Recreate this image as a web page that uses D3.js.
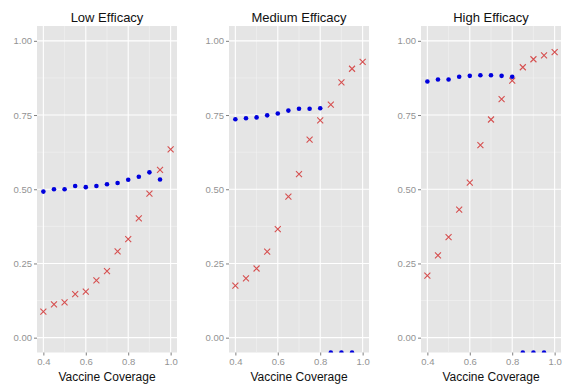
<!DOCTYPE html>
<html>
<head>
<meta charset="utf-8">
<script src="https://cdn.jsdelivr.net/npm/d3@7"></script>
<style>
  body { margin: 0; background: #fff; }
  text { font-family: "Liberation Sans", Arial, sans-serif; }
</style>
</head>
<body>
<svg id="chart"></svg>
<script>
// vaccine coverage levels
const coverage = [0.40, 0.45, 0.50, 0.55, 0.60, 0.65, 0.70, 0.75, 0.80, 0.85, 0.90, 0.95, 1.00];

const titles = ["Low Efficacy", "Medium Efficacy", "High Efficacy"];

// blue dots (null = not drawn); -0.05 sits on the panel's lower edge
const lowDots  = [0.492, 0.500, 0.500, 0.511, 0.507, 0.511, 0.517, 0.521, 0.532, 0.542, 0.557, 0.533, null];
const medDots  = [0.736, 0.739, 0.742, 0.749, 0.755, 0.765, 0.771, 0.771, 0.773, -0.05, -0.05, -0.05, null];
const highDots = [0.863, 0.870, 0.870, 0.879, 0.882, 0.884, 0.884, 0.882, 0.879, -0.05, -0.05, -0.05, null];

// red crosses
const lowCross  = [0.088, 0.112, 0.119, 0.147, 0.155, 0.193, 0.224, 0.291, 0.332, 0.402, 0.485, 0.565, 0.634];
const medCross  = [0.175, 0.200, 0.233, 0.290, 0.366, 0.475, 0.551, 0.667, 0.732, 0.785, 0.860, 0.906, 0.929];
const highCross = [0.209, 0.277, 0.339, 0.431, 0.522, 0.649, 0.735, 0.804, 0.866, 0.911, 0.938, 0.951, 0.962];

const xTicks = [0.4, 0.6, 0.8, 1.0];
const xMinor = [0.5, 0.7, 0.9];
const yTicks = [0, 0.25, 0.5, 0.75, 1.0];
const yMinor = [0.125, 0.375, 0.625, 0.875];

const width = 563, height = 385;
const panelLefts = [37, 229, 421];
const panelW = 140, panelTop = 26, panelBottom = 352.5;

const svg = d3.select("#chart")
    .attr("width", width)
    .attr("height", height);

const panels = [
    {title: titles[0], dots: lowDots,  cross: lowCross},
    {title: titles[1], dots: medDots,  cross: medCross},
    {title: titles[2], dots: highDots, cross: highCross}
];

panels.forEach(function (p, i) {
    const left = panelLefts[i];
    const x = d3.scaleLinear().domain([0.37, 1.03]).range([left, left + panelW]);
    const y = d3.scaleLinear().domain([-0.05, 1.05]).range([panelBottom, panelTop]);

    const g = svg.append("g");

    // clip for the panel
    g.append("clipPath").attr("id", "clip" + i)
        .append("rect")
        .attr("x", left).attr("y", panelTop)
        .attr("width", panelW).attr("height", panelBottom - panelTop);

    // background
    g.append("rect")
        .attr("x", left).attr("y", panelTop)
        .attr("width", panelW).attr("height", panelBottom - panelTop)
        .attr("fill", "#e5e5e5");

    // minor grid
    g.selectAll(".ymin").data(yMinor).enter().append("line")
        .attr("x1", left).attr("x2", left + panelW)
        .attr("y1", d => y(d)).attr("y2", d => y(d))
        .attr("stroke", "#f2f2f2").attr("stroke-width", 0.6);
    g.selectAll(".xmin").data(xMinor).enter().append("line")
        .attr("y1", panelTop).attr("y2", panelBottom)
        .attr("x1", d => x(d)).attr("x2", d => x(d))
        .attr("stroke", "#f2f2f2").attr("stroke-width", 0.6);

    // major grid
    g.selectAll(".ymaj").data(yTicks).enter().append("line")
        .attr("x1", left).attr("x2", left + panelW)
        .attr("y1", d => y(d)).attr("y2", d => y(d))
        .attr("stroke", "#fff").attr("stroke-width", 1.1);
    g.selectAll(".xmaj").data(xTicks).enter().append("line")
        .attr("y1", panelTop).attr("y2", panelBottom)
        .attr("x1", d => x(d)).attr("x2", d => x(d))
        .attr("stroke", "#fff").attr("stroke-width", 1.1);

    // axes
    const yAxis = g.append("g")
        .attr("transform", "translate(" + left + ",0)")
        .call(d3.axisLeft(y).tickValues(yTicks).tickFormat(d3.format(".2f")).tickSize(3).tickPadding(2));
    const xAxis = g.append("g")
        .attr("transform", "translate(0," + panelBottom + ")")
        .call(d3.axisBottom(x).tickValues(xTicks).tickFormat(d3.format(".1f")).tickSize(3).tickPadding(3));
    [yAxis, xAxis].forEach(function (a) {
        a.select(".domain").remove();
        a.selectAll(".tick line").attr("stroke", "#7f7f7f");
        a.selectAll(".tick text")
            .attr("fill", "#939393")
            .style("font-size", "9.5px")
            .style("font-family", "'Liberation Sans', Arial, sans-serif");
    });

    const marks = g.append("g").attr("clip-path", "url(#clip" + i + ")");

    // red crosses
    const s = 3;
    marks.selectAll(".cross").data(coverage.map((c, k) => [c, p.cross[k]]).filter(d => d[1] != null))
        .enter().append("path")
        .attr("d", function (d) {
            const cx = x(d[0]), cy = y(d[1]);
            return "M" + (cx - s) + "," + (cy - s) + "L" + (cx + s) + "," + (cy + s) +
                   "M" + (cx - s) + "," + (cy + s) + "L" + (cx + s) + "," + (cy - s);
        })
        .attr("stroke", "#d65050").attr("stroke-width", 1.1).attr("fill", "none");

    // blue dots
    marks.selectAll(".dot").data(coverage.map((c, k) => [c, p.dots[k]]).filter(d => d[1] != null))
        .enter().append("circle")
        .attr("cx", d => x(d[0])).attr("cy", d => y(d[1]))
        .attr("r", 2.3)
        .attr("fill", "#0000dd");

    // title
    g.append("text")
        .attr("x", left + panelW / 2).attr("y", 22)
        .attr("text-anchor", "middle")
        .style("font-size", "13px")
        .attr("fill", "#111")
        .text(p.title);

    // x axis title
    g.append("text")
        .attr("x", left + panelW / 2).attr("y", 381)
        .attr("text-anchor", "middle")
        .style("font-size", "12px")
        .attr("fill", "#111")
        .text("Vaccine Coverage");
});
</script>
</body>
</html>
